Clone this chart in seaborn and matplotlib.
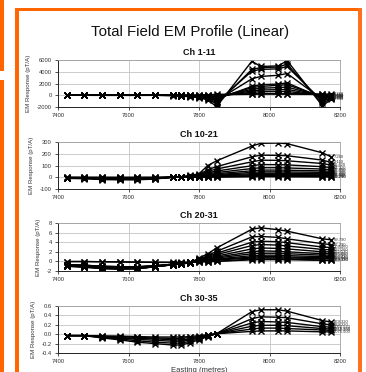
import matplotlib
matplotlib.use("Agg")
import numpy as np
import pandas as pd
import seaborn as sns
import matplotlib.pyplot as plt
from matplotlib.patches import Rectangle
from matplotlib.ticker import FormatStrFormatter, MultipleLocator

# Survey stations along the line (Easting, metres)
easting = [7425, 7475, 7525, 7575, 7625, 7675, 7725, 7750, 7775,
           7800, 7825, 7850, 7950, 7975, 8025, 8050, 8150, 8175]

# Channel delay times used as end-of-line labels (ms)
ch_times = {
    1: "0.948", 2: "1.189", 3: "1.491", 4: "1.870", 5: "2.345", 6: "2.941",
    7: "3.688", 8: "4.624", 9: "5.799", 10: "7.260", 11: "9.110", 12: "11.420",
    13: "14.320", 14: "17.960", 15: "22.520", 16: "28.240", 17: "35.410",
    18: "44.400", 19: "55.680", 20: "69.790", 21: "87.290", 22: "109.460",
    23: "137.260", 24: "172.130", 25: "215.850", 26: "270.680", 27: "339.430",
    28: "425.640", 29: "533.750", 30: "669.320", 31: "839.330", 32: "1052.520",
    33: "1319.860", 34: "1655.100", 35: "2075.500",
}

# Total field response per channel (pT/A), one value per station
ch01 = [0, 0, 0, 0, 0, -10, -50, -150, -250, -400, -800, -1950, 5800, 4900, 5000, 5900, -1800, -700]
ch02 = [0, 0, 0, 0, 0, -10, -40, -120, -200, -350, -650, -1500, 4400, 4700, 4800, 5300, -1400, -550]
ch03 = [0, 0, 0, 0, 0, -10, -30, -100, -170, -300, -550, -1200, 4100, 4400, 4500, 4900, -1000, -450]
ch04 = [0, 0, 0, 0, 0, -5, -25, -80, -140, -240, -450, -900, 2800, 3200, 3400, 3700, -700, -350]
ch05 = [0, 0, 0, 0, 0, -5, -20, -60, -110, -190, -350, -650, 1500, 1800, 1900, 2100, -450, -250]
ch06 = [0, 0, 0, 0, 0, -5, -15, -50, -90, -150, -280, -500, 1300, 1500, 1700, 1800, -300, -200]
ch07 = [0, 0, 0, 0, 0, -5, -10, -40, -70, -110, -200, -350, 1000, 1200, 1300, 1400, -200, -150]
ch08 = [0, 0, 0, 0, 0, 0, -10, -30, -50, -80, -140, -250, 750, 900, 950, 1000, -100, -100]
ch09 = [0, 0, 0, 0, 0, 0, -5, -20, -30, -50, -90, -150, 500, 600, 650, 650, -30, -50]
ch10 = [-10, -12, -20, -22, -22, -15, 0, 5, 15, 30, 100, 140, 265, 289, 291, 286, 208, 174]
ch11 = [-8, -10, -16, -18, -18, -12, 0, 4, 11, 22, 65, 90, 174, 188, 186, 183, 146, 126]
ch12 = [-7, -9, -14, -16, -16, -10, 0, 3, 9, 18, 50, 70, 131, 145, 144, 140, 117, 103]
ch13 = [-6, -8, -12, -14, -14, -9, 0, 3, 7, 14, 38, 53, 98, 108, 107, 105, 90, 82]
ch14 = [-5, -7, -10, -12, -12, -8, 0, 2, 6, 11, 29, 40, 74, 81, 81, 79, 70, 64]
ch15 = [-5, -6, -9, -10, -10, -7, 0, 2, 5, 9, 22, 30, 55, 61, 61, 60, 54, 50]
ch16 = [-4, -5, -8, -9, -9, -6, 0, 2, 4, 7, 17, 23, 41, 46, 46, 45, 42, 39]
ch17 = [-4, -5, -7, -8, -8, -5, 0, 1, 3, 6, 13, 17, 30, 34, 34, 33, 31, 30]
ch18 = [-3, -4, -6, -7, -7, -4, 0, 1, 2, 4, 9, 12, 21, 23, 23, 22, 21, 21]
ch19 = [-3, -4, -5, -6, -6, -4, 0, 1, 2, 3, 6, 8, 13, 15, 15, 14, 14, 13]
ch20 = [-0.8, -0.9, -1.2, -1.3, -1.3, -1.0, -0.7, -0.5, -0.3, 0.7, 1.6, 2.8, 6.7, 7.0, 6.6, 6.3, 4.7, 4.5]
ch21 = [-0.7, -0.8, -1.0, -1.1, -1.1, -0.9, -0.6, -0.4, -0.2, 0.5, 1.2, 2.1, 5.1, 5.2, 5.0, 4.7, 3.7, 3.5]
ch22 = [-0.7, -0.8, -1.0, -1.1, -1.1, -0.9, -0.6, -0.4, -0.2, 0.4, 1.0, 1.7, 4.0, 4.2, 4.1, 3.9, 3.0, 2.9]
ch23 = [-0.7, -0.8, -1.1, -1.2, -1.2, -0.9, -0.6, -0.4, -0.2, 0.3, 0.8, 1.4, 3.3, 3.5, 3.4, 3.2, 2.5, 2.4]
ch24 = [-0.8, -0.9, -1.2, -1.3, -1.3, -1.0, -0.6, -0.4, -0.2, 0.3, 0.7, 1.1, 2.6, 2.8, 2.7, 2.6, 2.0, 2.0]
ch25 = [-0.8, -1.0, -1.3, -1.4, -1.4, -1.0, -0.7, -0.5, -0.2, 0.2, 0.5, 0.9, 2.0, 2.2, 2.1, 2.0, 1.6, 1.6]
ch26 = [-0.9, -1.1, -1.4, -1.5, -1.5, -1.1, -0.7, -0.5, -0.3, 0.1, 0.4, 0.7, 1.6, 1.7, 1.7, 1.6, 1.3, 1.3]
ch27 = [-0.9, -1.1, -1.4, -1.5, -1.5, -1.1, -0.7, -0.5, -0.3, 0.1, 0.3, 0.5, 1.2, 1.3, 1.3, 1.2, 1.0, 1.0]
ch28 = [-1.0, -1.2, -1.5, -1.6, -1.5, -1.1, -0.7, -0.5, -0.3, 0.0, 0.2, 0.4, 0.9, 1.0, 1.0, 0.9, 0.8, 0.8]
ch29 = [-1.0, -1.2, -1.5, -1.6, -1.5, -1.1, -0.7, -0.5, -0.3, 0.0, 0.1, 0.3, 0.7, 0.75, 0.75, 0.7, 0.6, 0.6]
ch30 = [-0.03, -0.03, -0.08, -0.12, -0.17, -0.20, -0.23, -0.23, -0.18, -0.12, -0.05, 0.01, 0.48, 0.52, 0.52, 0.49, 0.29, 0.26]
ch31 = [-0.03, -0.03, -0.07, -0.10, -0.14, -0.17, -0.19, -0.19, -0.15, -0.10, -0.04, 0.01, 0.33, 0.37, 0.36, 0.35, 0.22, 0.20]
ch32 = [-0.03, -0.03, -0.06, -0.08, -0.11, -0.13, -0.15, -0.15, -0.12, -0.08, -0.03, 0.01, 0.24, 0.27, 0.26, 0.25, 0.16, 0.15]
ch33 = [-0.03, -0.03, -0.05, -0.07, -0.09, -0.10, -0.12, -0.12, -0.10, -0.06, -0.02, 0.01, 0.17, 0.19, 0.19, 0.18, 0.12, 0.11]
ch34 = [-0.03, -0.03, -0.04, -0.05, -0.07, -0.08, -0.09, -0.09, -0.07, -0.05, -0.02, 0.01, 0.11, 0.13, 0.13, 0.12, 0.09, 0.08]
ch35 = [-0.03, -0.03, -0.04, -0.04, -0.05, -0.06, -0.06, -0.06, -0.05, -0.03, -0.01, 0.01, 0.06, 0.07, 0.07, 0.07, 0.05, 0.05]

channel_data = {
    1: ch01, 2: ch02, 3: ch03, 4: ch04, 5: ch05, 6: ch06, 7: ch07, 8: ch08,
    9: ch09, 10: ch10, 11: ch11, 12: ch12, 13: ch13, 14: ch14, 15: ch15,
    16: ch16, 17: ch17, 18: ch18, 19: ch19, 20: ch20, 21: ch21, 22: ch22,
    23: ch23, 24: ch24, 25: ch25, 26: ch26, 27: ch27, 28: ch28, 29: ch29,
    30: ch30, 31: ch31, 32: ch32, 33: ch33, 34: ch34, 35: ch35,
}

# Channel windows shown in each panel
panel_titles = ["Ch 1-11", "Ch 10-21", "Ch 20-31", "Ch 30-35"]
panel_channels = [list(range(1, 12)), list(range(10, 22)),
                  list(range(20, 32)), list(range(30, 36))]
panel_ylims = [(-2000, 6000), (-100, 300), (-2, 8), (-0.4, 0.6)]
panel_ysteps = [2000, 100, 2, 0.2]
panel_yfmt = ["%d", "%d", "%d", "%.1f"]
x_ticks = [7400, 7600, 7800, 8000, 8200]

sns.set_theme(style="white")
plt.rcParams["font.family"] = ["Liberation Sans", "DejaVu Sans"]

W, H = 366, 372
fig = plt.figure(figsize=(W / 100, H / 100), dpi=100)
fig.patch.set_facecolor("white")


def px_rect(x0, y0, x1, y1, color):
    """Filled rectangle given in pixel coordinates measured from the top-left."""
    fig.patches.append(Rectangle((x0 / W, 1 - y1 / H), (x1 - x0) / W, (y1 - y0) / H,
                                 transform=fig.transFigure, facecolor=color,
                                 edgecolor="none", zorder=-5))


orange = "#FF6600"
# frame around the chart and the neighbouring boxes on the page
px_rect(15, 8, 362, 11, orange)
px_rect(15, 8, 19, 372, orange)
px_rect(358, 8, 362, 372, "#FF7020")
px_rect(0, 0, 4, 71, orange)
px_rect(0, 80, 4, 372, orange)

fig.text(190 / W, 1 - 32 / H, "Total Field EM Profile (Linear)", ha="center",
         va="center", fontsize=10.8, color="#111111")

axes_px = [(58, 60, 340, 107), (58, 142, 340, 189), (58, 223, 340, 271), (58, 306, 340, 353)]
tick_color = "#333333"

for i, (title, chans) in enumerate(zip(panel_titles, panel_channels)):
    x0, y0, x1, y1 = axes_px[i]
    ax = fig.add_axes([x0 / W, 1 - y1 / H, (x1 - x0) / W, (y1 - y0) / H])
    rows = []
    for c in chans:
        for e, v in zip(easting, channel_data[c]):
            rows.append({"Easting": e, "Response": v, "Channel": ch_times[c]})
    df = pd.DataFrame(rows)
    order = [ch_times[c] for c in chans]
    sns.lineplot(data=df, x="Easting", y="Response", hue="Channel", hue_order=order,
                 palette=["#000000"] * len(chans), marker="x", markersize=4.0,
                 markeredgewidth=1.0, markeredgecolor="#000000", linewidth=1.0,
                 legend=False, errorbar=None, ax=ax)
    # channel labels at the end of each line
    for c in chans:
        ax.text(easting[-1] + 8, channel_data[c][-1], ch_times[c], fontsize=3.0,
                color="#333333", ha="left", va="center", clip_on=False)

    ax.set_xlim(7400, 8200)
    ax.set_ylim(*panel_ylims[i])
    ax.set_xticks(x_ticks)
    ax.yaxis.set_major_locator(MultipleLocator(panel_ysteps[i]))
    ax.yaxis.set_major_formatter(FormatStrFormatter(panel_yfmt[i]))
    ax.grid(True, color="#c4c4c4", linewidth=0.6)
    ax.set_axisbelow(True)
    for side in ["top", "right"]:
        ax.spines[side].set_color("#a0a0a0")
        ax.spines[side].set_linewidth(0.6)
    for side in ["left", "bottom"]:
        ax.spines[side].set_color("#222222")
        ax.spines[side].set_linewidth(0.7)
    ax.tick_params(axis="both", direction="out", length=2.5, width=0.6, pad=2,
                   labelsize=4.2, colors=tick_color, bottom=True, left=True)
    ax.set_xlabel("")
    ax.set_ylabel("EM Response (pT/A)", fontsize=4.4, color="#333333", labelpad=4)
    ax.set_title(title, fontsize=6.5, fontweight="bold", color="#111111", pad=3.5)
    ax.set_facecolor("white")
    if i == 3:
        ax.set_xlabel("Easting (metres)", fontsize=5.5, color="#333333", labelpad=2)

fig.savefig("out.png", dpi=100)
